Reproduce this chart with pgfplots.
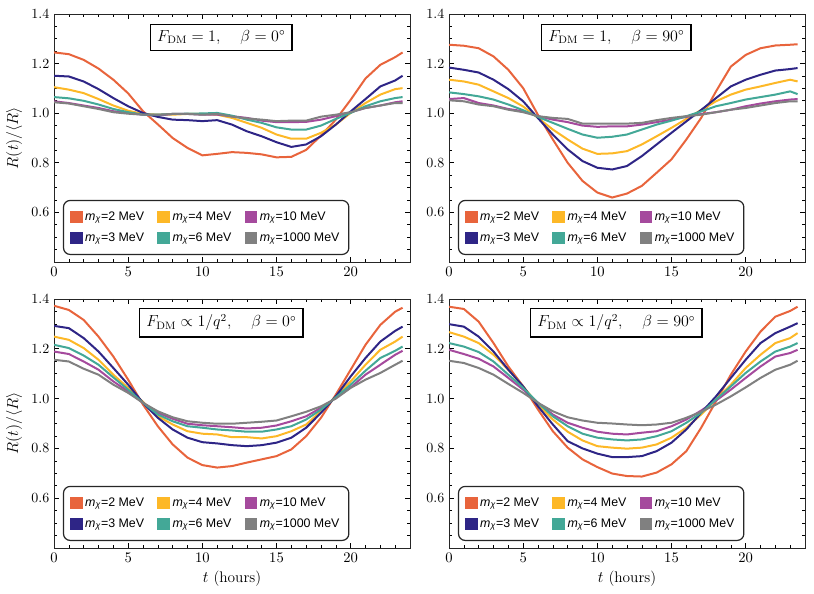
\documentclass[border=0pt]{standalone}
\usepackage{pgfplots}
\usepackage{pgfplotstable}
\pgfplotsset{compat=1.18}
\usepackage{fontspec}
\newfontfamily\lsans{Liberation Sans}
\definecolor{cO}{HTML}{E8643C}
\definecolor{cB}{HTML}{2E2586}
\definecolor{cY}{HTML}{FDB827}
\definecolor{cT}{HTML}{43A897}
\definecolor{cM}{HTML}{A54A9D}
\definecolor{cG}{HTML}{808080}

\pgfplotstableread{
t    a     b     c     d     e     f
0    1.245 1.151 1.105 1.065 1.048 1.044
1    1.238 1.148 1.095 1.060 1.041 1.039
2    1.215 1.128 1.081 1.050 1.031 1.028
3    1.180 1.097 1.057 1.035 1.021 1.017
4    1.135 1.061 1.031 1.017 1.008 1.004
5    1.080 1.028 1.010 1.004 1.001 0.998
6    1.008 1.001 0.997 0.994 0.994 0.994
7    0.955 0.985 0.994 0.994 0.990 0.994
8    0.900 0.974 0.994 0.997 0.997 0.997
9    0.860 0.972 0.997 0.998 0.997 0.997
10   0.830 0.968 0.997 0.999 0.994 0.994
11   0.836 0.972 0.994 1.001 0.994 0.997
12   0.843 0.954 0.981 0.990 0.988 0.986
13   0.840 0.927 0.961 0.974 0.981 0.979
14   0.834 0.907 0.941 0.961 0.970 0.974
15   0.822 0.883 0.914 0.943 0.964 0.968
16   0.824 0.864 0.897 0.934 0.964 0.970
17   0.852 0.874 0.897 0.934 0.965 0.970
18   0.910 0.907 0.921 0.950 0.974 0.986
19   0.974 0.954 0.954 0.977 0.988 0.994
20   1.054 1.007 1.001 1.001 1.004 1.004
21   1.140 1.057 1.041 1.028 1.021 1.021
22   1.195 1.108 1.075 1.048 1.031 1.031
23   1.226 1.132 1.097 1.061 1.044 1.041
23.5 1.245 1.151 1.101 1.065 1.048 1.041
}\tabA

\pgfplotstableread{
t    a     b     c     d     e     f
0    1.276 1.184 1.135 1.084 1.057 1.052
1    1.272 1.175 1.128 1.077 1.061 1.048
2    1.262 1.164 1.115 1.068 1.041 1.035
3    1.229 1.135 1.088 1.055 1.031 1.028
4    1.175 1.097 1.061 1.035 1.017 1.014
5    1.101 1.048 1.027 1.012 1.008 1.004
6    0.993 0.980 0.981 0.985 0.988 0.988
7    0.894 0.914 0.934 0.961 0.974 0.981
8    0.800 0.854 0.894 0.937 0.964 0.977
9    0.727 0.807 0.857 0.914 0.950 0.958
10   0.680 0.780 0.836 0.901 0.945 0.958
11   0.660 0.773 0.838 0.905 0.947 0.958
12   0.676 0.787 0.847 0.914 0.947 0.958
13   0.707 0.827 0.874 0.934 0.954 0.961
14   0.760 0.874 0.907 0.954 0.964 0.972
15   0.814 0.921 0.941 0.970 0.974 0.981
16   0.894 0.967 0.977 0.988 0.985 0.988
17   0.981 1.013 1.013 1.007 0.997 0.994
18   1.088 1.061 1.048 1.028 1.004 1.004
19   1.188 1.108 1.075 1.041 1.014 1.014
20   1.235 1.135 1.095 1.055 1.028 1.021
21   1.262 1.155 1.108 1.065 1.039 1.031
22   1.273 1.172 1.122 1.075 1.048 1.041
23   1.276 1.178 1.135 1.088 1.055 1.048
23.5 1.278 1.182 1.128 1.077 1.057 1.048
}\tabB

\pgfplotstableread{
t    a     b     c     d     e     f
0    1.373 1.292 1.249 1.216 1.189 1.156
1    1.356 1.283 1.236 1.203 1.179 1.149
2    1.316 1.243 1.203 1.173 1.149 1.120
3    1.249 1.189 1.156 1.136 1.116 1.096
4    1.169 1.123 1.096 1.085 1.069 1.056
5    1.076 1.056 1.043 1.036 1.029 1.023
6    0.976 0.983 0.987 0.983 0.983 0.983
7    0.889 0.923 0.929 0.936 0.943 0.949
8    0.816 0.876 0.896 0.909 0.919 0.925
9    0.763 0.843 0.869 0.889 0.899 0.909
10   0.733 0.825 0.859 0.883 0.893 0.903
11   0.723 0.820 0.856 0.876 0.889 0.899
12   0.729 0.813 0.845 0.872 0.885 0.899
13   0.743 0.809 0.845 0.867 0.880 0.903
14   0.756 0.813 0.840 0.867 0.883 0.907
15   0.769 0.823 0.849 0.876 0.892 0.912
16   0.796 0.843 0.869 0.889 0.909 0.929
17   0.849 0.883 0.896 0.916 0.929 0.947
18   0.923 0.943 0.949 0.956 0.963 0.969
19   1.016 1.009 1.009 1.005 1.003 1.000
20   1.116 1.089 1.069 1.056 1.045 1.043
21   1.216 1.163 1.136 1.112 1.096 1.076
22   1.296 1.229 1.196 1.163 1.136 1.103
23   1.349 1.272 1.229 1.192 1.176 1.136
23.5 1.365 1.289 1.249 1.209 1.192 1.152
}\tabC

\pgfplotstableread{
t    a     b     c     d     e     f
0    1.369 1.299 1.267 1.223 1.196 1.152
1    1.360 1.289 1.249 1.209 1.179 1.143
2    1.309 1.249 1.223 1.187 1.160 1.123
3    1.223 1.189 1.176 1.149 1.129 1.096
4    1.129 1.116 1.116 1.096 1.083 1.059
5    1.049 1.049 1.049 1.043 1.036 1.023
6    0.956 0.969 0.976 0.983 0.983 0.983
7    0.869 0.896 0.916 0.929 0.936 0.949
8    0.803 0.829 0.867 0.889 0.903 0.925
9    0.756 0.800 0.832 0.859 0.883 0.912
10   0.725 0.779 0.809 0.843 0.867 0.903
11   0.699 0.765 0.803 0.836 0.859 0.900
12   0.689 0.765 0.799 0.832 0.856 0.896
13   0.687 0.769 0.803 0.836 0.863 0.893
14   0.703 0.789 0.816 0.849 0.869 0.896
15   0.736 0.823 0.843 0.869 0.889 0.903
16   0.789 0.876 0.883 0.903 0.916 0.923
17   0.883 0.943 0.936 0.943 0.952 0.947
18   0.989 1.009 0.996 0.996 0.992 0.976
19   1.096 1.083 1.056 1.049 1.036 1.009
20   1.189 1.156 1.123 1.103 1.083 1.045
21   1.269 1.223 1.176 1.149 1.129 1.083
22   1.329 1.263 1.223 1.189 1.169 1.116
23   1.352 1.289 1.243 1.209 1.183 1.136
23.5 1.369 1.303 1.263 1.223 1.196 1.152
}\tabD

\tikzset{titlebox/.style={draw=black, line width=1.1pt, fill=white, inner xsep=5pt, inner ysep=4.5pt, font=\fontsize{11.5}{13}\selectfont}}

\pgfplotsset{
  panel/.style={
    scale only axis, width=267pt, height=186pt,
    xmin=0, xmax=24, ymin=0.4, ymax=1.4,
    xtick={0,5,10,15,20},
    minor xtick={1,2,3,4,6,7,8,9,11,12,13,14,16,17,18,19,21,22,23},
    ytick={0.4,0.6,0.8,1.0,1.2,1.4},
    yticklabels={,0.6,0.8,1.0,1.2,1.4},
    minor ytick={0.45,0.5,0.55,0.65,0.7,0.75,0.85,0.9,0.95,1.05,1.1,1.15,1.25,1.3,1.35},
    tick align=inside, tick pos=both,
    major tick length=4pt, minor tick length=2.3pt,
    every tick/.style={black, line width=0.45pt},
    axis line style={line width=0.5pt, black!85},
    tick label style={font=\fontsize{10.5}{12}\selectfont},
    label style={font=\fontsize{11.5}{13}\selectfont},
    legend style={at={(0.025,0.028)}, anchor=south west, draw=black!85,
      line width=0.9pt, rounded corners=5pt,
      font=\lsans\fontsize{9.3}{11}\selectfont,
      inner xsep=5pt, inner ysep=6.5pt,
      /tikz/every even column/.append style={column sep=8pt},
      row sep=3.5pt},
    legend columns=3, legend cell align=left,
    legend image code/.code={\fill[##1, sharp corners] (0pt,-3.8pt) rectangle (7.8pt,3.8pt);},
    every axis plot/.append style={line width=1.5pt, no markers},
  },
}

\newcommand\sixplots[1]{%
  \addplot[cO] table[x=t,y=a]{#1};
  \addplot[cY] table[x=t,y=c]{#1};
  \addplot[cM] table[x=t,y=e]{#1};
  \addplot[cB] table[x=t,y=b]{#1};
  \addplot[cT] table[x=t,y=d]{#1};
  \addplot[cG] table[x=t,y=f]{#1};
  \legend{{\textit{m}\textsubscript{\textit{χ}}=2 MeV},{\textit{m}\textsubscript{\textit{χ}}=4 MeV},{\textit{m}\textsubscript{\textit{χ}}=10 MeV},{\textit{m}\textsubscript{\textit{χ}}=3 MeV},{\textit{m}\textsubscript{\textit{χ}}=6 MeV},{\textit{m}\textsubscript{\textit{χ}}=1000 MeV}}%
}

\begin{document}
\begin{tikzpicture}
\path (0,0) rectangle (610.5pt,444.75pt);
\begin{axis}[panel, at={(40.5pt,248.25pt)}, anchor=south west,
  ylabel={$R(t)/\langle R\rangle$}]
\sixplots{\tabA}
\node[titlebox] at (rel axis cs:0.47,0.905) {$F_{\mathrm{DM}}=1,\hspace{13pt}\beta=0^\circ$};
\end{axis}
\begin{axis}[panel, at={(336.75pt,248.25pt)}, anchor=south west]
\sixplots{\tabB}
\node[titlebox] at (rel axis cs:0.47,0.905) {$F_{\mathrm{DM}}=1,\hspace{13pt}\beta=90^\circ$};
\end{axis}
\begin{axis}[panel, height=186.75pt, at={(40.5pt,33.75pt)}, anchor=south west,
  ylabel={$R(t)/\langle R\rangle$}, xlabel={$t$ (hours)}]
\sixplots{\tabC}
\node[titlebox] at (rel axis cs:0.47,0.905) {$F_{\mathrm{DM}}\propto 1/q^2,\hspace{13pt}\beta=0^\circ$};
\end{axis}
\begin{axis}[panel, height=186.75pt, at={(336.75pt,33.75pt)}, anchor=south west,
  xlabel={$t$ (hours)}]
\sixplots{\tabD}
\node[titlebox] at (rel axis cs:0.47,0.905) {$F_{\mathrm{DM}}\propto 1/q^2,\hspace{13pt}\beta=90^\circ$};
\end{axis}
\end{tikzpicture}
\end{document}
